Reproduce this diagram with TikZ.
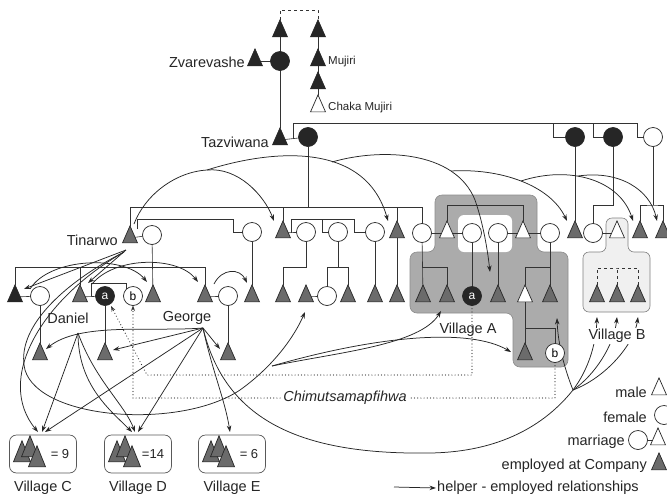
\documentclass[tikz,border=0pt]{standalone}
\usepackage{fontspec}
\setmainfont{Liberation Sans}
\usetikzlibrary{shapes.geometric,arrows.meta,calc}
\pgfdeclarelayer{bg}
\pgfsetlayers{bg,main}
\begin{document}
\begin{tikzpicture}[x=1pt,y=-1pt,
  sym/.style={draw=black!85, line width=0.7pt, inner sep=0pt, outer sep=0pt},
  tri/.style={sym, isosceles triangle, isosceles triangle stretches, shape border rotate=90, minimum width=15pt, minimum height=17pt},
  hat/.style={tri, fill=black!58},
  sol/.style={tri, fill=black!85},
  otri/.style={tri, fill=white},
  fem/.style={sym, circle, minimum size=19pt, fill=white, font=\fontsize{12}{12}\selectfont},
  sfem/.style={fem, fill=black!85, text=white},
  ln/.style={draw=black!80, line width=0.6pt},
  hl/.style={draw=black!85, line width=0.75pt, -{Stealth[length=6.5pt,width=4.5pt]}},
  dt/.style={draw=black!80, line width=1.2pt, line cap=round, dash pattern=on 0pt off 3.2pt, -{Stealth[length=5.5pt,width=4pt]}},
  lab/.style={font=\fontsize{14.5}{16}\selectfont, text=black!85, inner sep=1pt},
  sm/.style={font=\fontsize{11.5}{13}\selectfont, text=black!85, inner sep=1pt},
  vbox/.style={draw=black!65, line width=0.7pt, rounded corners=7pt, minimum width=67pt, minimum height=38pt, fill=white},
  big/.style={hat, minimum width=17pt, minimum height=21pt},
]
\useasboundingbox (0,0) rectangle (667,496);

% ---------- top generations
\node[sol] (zt1) at (280,32) {};
\node[sol] (zt2) at (318,32) {};
\node[sol] (zv) at (255,61) {};
\node[sfem] (zc) at (280,61) {};
\node[sol] (mj) at (318,61) {};
\node[sol] (mj2) at (318,84) {};
\node[otri] (cm) at (318,107) {};
\node[sol] (tz) at (280,140) {};
\node[sfem] (tc) at (308,137) {};
\node[sfem] (r1) at (575,137) {};
\node[sfem] (r2) at (613,137) {};
\node[fem] (r3) at (653,137) {};
\node[lab, anchor=east] (lzv) at (246,62) {Zvarevashe};
\node[sm, anchor=west] (lmj) at (327,62) {Mujiri};
\node[sm, anchor=west] (lcm) at (327,108) {Chaka Mujiri};
\node[lab, anchor=east] (ltz) at (270,142) {Tazviwana};

% ---------- row 2
\node[hat] (tn) at (130,238) {};
\node[fem] (c1) at (152,235) {};
\node[fem] (c2) at (252,232) {};
\node[hat] (t2) at (283,233) {};
\node[fem] (c3) at (306,232) {};
\node[fem] (c4) at (338,232) {};
\node[fem] (c5) at (375,232) {};
\node[hat] (t3) at (397,233) {};
\node[fem] (c6) at (422,233) {};
\node[otri] (a1) at (447,233) {};
\node[fem] (c7) at (472,233) {};
\node[fem] (c8) at (498,233) {};
\node[otri] (a2) at (523,233) {};
\node[fem] (c9) at (550,233) {};
\node[hat] (t4) at (575,233) {};
\node[fem] (c10) at (593,233) {};
\node[otri] (b0) at (617,233) {};
\node[hat] (t5) at (640,233) {};
\node[hat] (t6) at (663,233) {};
\node[lab, anchor=east] (ltn) at (119,240) {Tinarwo};

% ---------- row 3
\node[sol] (k1) at (15,297) {};
\node[fem] (k2) at (40,296) {};
\node[hat] (k3) at (80,297) {};
\node[sfem] (ka) at (105,296) {a};
\node[fem] (kb) at (133,296) {b};
\node[hat] (k4) at (153,297) {};
\node[hat] (k5) at (205,297) {};
\node[fem] (k6) at (228,296) {};
\node[hat] (k7) at (252,297) {};
\node[hat] (k8) at (283,297) {};
\node[hat] (k9) at (306,297) {};
\node[fem] (k10) at (327,296) {};
\node[hat] (k11) at (348,297) {};
\node[hat] (k12) at (375,297) {};
\node[hat] (k13) at (397,297) {};
\node[hat] (v1) at (423,297) {};
\node[hat] (v2) at (447,297) {};
\node[sfem] (va) at (472,296) {a};
\node[hat] (v4) at (498,297) {};
\node[otri] (v5) at (525,297) {};
\node[hat] (v6) at (550,297) {};
\node[hat] (vb1) at (597,297) {};
\node[hat] (vb2) at (617,297) {};
\node[hat] (vb3) at (638,297) {};
\node[lab] (ldan) at (68,318) {Daniel};
\node[lab] (lgeo) at (187,318) {George};

% ---------- row 4
\node[hat] (m1) at (40,355) {};
\node[hat] (m2) at (105,355) {};
\node[hat] (m3) at (228,355) {};
\node[hat] (w1) at (525,355) {};
\node[fem] (wb) at (555,353) {b};
\node[lab] (lva) at (468,330) {Village A};
\node[lab, fill=white] (lvb) at (617,336) {Village B};

% ---------- villages C D E
\node[vbox] (VC) at (43,454) {};
\node[big] (VC1) at ($(VC)+(-21,2)$) {};
\node[big] (VC2) at ($(VC)+(-13,-3)$) {};
\node[big] (VC3) at ($(VC)+(-6,7)$) {};
\node[lab, font=\fontsize{13}{13}\selectfont] (VCt) at ($(VC)+(17,0)$) {= 9};
\node[vbox] (VD) at (138,454) {};
\node[big] (VD1) at ($(VD)+(-21,2)$) {};
\node[big] (VD2) at ($(VD)+(-13,-3)$) {};
\node[big] (VD3) at ($(VD)+(-6,7)$) {};
\node[lab, font=\fontsize{13}{13}\selectfont] (VDt) at ($(VD)+(15,0)$) {=14};
\node[vbox] (VE) at (232,454) {};
\node[big] (VE1) at ($(VE)+(-21,2)$) {};
\node[big] (VE2) at ($(VE)+(-13,-3)$) {};
\node[big] (VE3) at ($(VE)+(-6,7)$) {};
\node[lab, font=\fontsize{13}{13}\selectfont] (VEt) at ($(VE)+(17,0)$) {= 6};
\node[lab] (lvc) at (43,488) {Village C};
\node[lab] (lvd) at (138,488) {Village D};
\node[lab] (lve) at (232,488) {Village E};

% ---------- legend
\node[lab, anchor=east] (lgm) at (648,392) {male};
\node[otri] (sgm) at (659,390) {};
\node[lab, anchor=east] (lgf) at (648,417) {female};
\node[fem] (sgf) at (664,415) {};
\node[lab, anchor=east] (lgr) at (626,442) {marriage};
\node[fem] (sgr1) at (638,440) {};
\node[otri] (sgr2) at (658,440) {};
\node[lab, anchor=east] (lge) at (648,466) {employed at Company};
\node[hat] (sge) at (659,465) {};
\node[lab, anchor=west] (lgh) at (436,488) {helper - employed relationships};
\coordinate (lga) at (394,487);

\node[lab, font=\fontsize{14.5}{16}\selectfont\itshape, fill=white, inner sep=2pt] (lch) at (345,398) {Chimutsamapfihwa};

\begin{pgfonlayer}{bg}
\fill[white] (0,0) rectangle (667,496);
% Village A and B areas
\filldraw[fill=black!33, draw=black!45, line width=0.6pt, rounded corners=7pt]
  (410,252) -- (435,252) -- (435,195) -- (537,195) -- (537,252) -- (568,252)
  -- (568,367) -- (513,367) -- (513,313) -- (410,313) -- cycle;
\fill[white, rounded corners=6pt] (458,215) rectangle (512,252);
\filldraw[fill=black!6, draw=black!50, line width=0.6pt, rounded corners=6pt]
  (583,252) -- (606,252) -- (606,218) -- (628,218) -- (628,252) -- (650,252)
  -- (650,312) -- (583,312) -- cycle;

% kinship lines top
\draw[ln, dashed] (zt1.apex) -- ++(0,-10) -| (zt2.apex);
\draw[ln] (zt1) -- (tz);
\draw[ln] (zv) -- (zc);
\draw[ln] (zt2) -- (cm);
\draw[ln] (tz) -- (tc);
\draw[ln] (293,139) -- (293,123) -- (637,123) |- (r3);
\draw[ln] (553,123) |- (r1);
\draw[ln] (593,123) |- (r2);
\draw[ln] (tc) -- (tc |- 0,207);
\draw[ln] (tn) -- (tn |- 0,207) -- (c6 |- 0,207) -- (c6);
\draw[ln] (t2) -- (t2 |- 0,207);
\draw[ln] (t3) -- (t3 |- 0,207);
% row 2 marriages
\draw[ln] (tn) -- (c1);
\draw[ln] (137,229) -- (137,219) -- (233,219) |- (c2);
\draw[ln] (t2) -- (c3);
\draw[ln] (291,233) -- (291,219) -- (354,219) |- (c5);
\draw[ln] (322,219) |- (c4);
\draw[ln] (c6) -- (c7);
\draw[ln] (c8) -- (c9);
\draw[ln] (c10) -- (b0);
\draw[ln] (a1) -- (a1 |- 0,205) -| (a2);
\draw[ln] (r1) -- (t4);
\draw[ln] (r2) -- (r2 |- 0,205) -| (c10);
\draw[ln] (r3) -- (r3 |- 0,205);
\draw[ln] (t5) |- (r3 |- 0,205) -| (t6);
% row 2 descents
\draw[ln] (c1) -- (k4);
\draw[ln] (k1) |- (k5 |- 0,267) -- (k5);
\draw[ln] (k3) -- (k3 |- 0,267);
\draw[ln] (c2) -- (k7);
\draw[ln] (c3) -- (c3 |- 0,267) -| (k8);
\draw[ln] (c4) -- (c4 |- 0,267);
\draw[ln] (k10) |- (k11 |- 0,267) -- (k11);
\draw[ln] (c5) -- (k12);
\draw[ln] (t3) -- (k13);
\draw[ln] (c6) -- (v1);
\draw[ln] (c6 |- 0,267) -| (v2);
\draw[ln] (c7) -- (va);
\draw[ln] (c8) -- (v4);
\draw[ln] (c9) -- (v6);
\draw[ln] (c9 |- 0,267) -| (v5);
\draw[ln] (v5) -- (w1);
\draw[ln] (v5 |- 0,328) -| (wb);
\draw[ln, dashed] (vb1) |- (vb2 |- 0,268) -| (vb3);
\draw[ln, dashed] (vb2) -- (vb2 |- 0,268);
% row 3 marriages and descents
\draw[ln] (k1) -- (k2);
\draw[ln] (k3) -- (ka);
\draw[ln] (91,296) -- (91,283) -| (kb.north west);
\draw[ln] (k5) -- (k6);
\draw[ln] (k9) -- (k10);
\draw[ln] (k2) -- (m1);
\draw[ln] (ka) -- (m2);
\draw[ln] (k6) -- (m3);

% helper arrows from Tinarwo (upper)
\draw[hl] (134,224) .. controls (145,195) and (175,172) .. (207,170) .. controls (238,167) and (264,195) .. (274,221);
\draw[hl] (207,170) .. controls (270,150) and (365,140) .. (388,221);
\draw[hl] (332,162) .. controls (380,148) and (455,150) .. (475,200) .. controls (482,220) and (487,245) .. (490,272);
\draw[hl] (451,171) .. controls (500,168) and (550,185) .. (567,221);
\draw[hl] (521,181) .. controls (570,165) and (620,180) .. (633,221);
\draw[hl] (578,176) .. controls (620,170) and (650,190) .. (657,221);
% Tinarwo lower
\draw[hl] (126,250) -- (24,289);
\draw[hl] (126,250) -- (88,283);
\draw[hl] (124,252) .. controls (60,285) and (15,330) .. (25,370) .. controls (40,420) and (180,430) .. (240,390) .. controls (275,365) and (295,335) .. (305,312);
\draw[hl] (124,252) .. controls (40,300) and (-5,380) .. (38,432);
\draw[hl] (272,366) .. controls (340,352) and (420,345) .. (441,311);
\draw[hl] (272,366) .. controls (380,335) and (470,328) .. (511,352);
% small arcs
\draw[hl] (30,289) .. controls (50,257) and (125,255) .. (147,282);
\draw[hl] (92,284) .. controls (115,256) and (178,256) .. (198,282);
\draw[hl] (214,284) .. controls (222,268) and (240,268) .. (247,283);
% Daniel
\coordinate (D0) at (78,333);
\draw[hl] (D0) -- (42,432);
\draw[hl] (D0) .. controls (78,385) and (110,410) .. (132,432);
\draw[hl] (D0) .. controls (95,380) and (125,405) .. (135,432);
% George
\coordinate (G0) at (203,328);
\coordinate (J) at (573,390);
\draw[hl] (G0) .. controls (150,332) and (80,322) .. (46,349);
\draw[hl] (G0) -- (113,350);
\draw[hl] (G0) -- (45,432);
\draw[hl] (G0) -- (138,432);
\draw[hl] (G0) .. controls (212,370) and (225,400) .. (230,432);
\draw[hl] (G0) -- (220,349);
\draw[line width=0.75pt, black!85] (G0) .. controls (225,420) and (300,455) .. (430,453) .. controls (500,452) and (545,425) .. (J);
\draw[hl] (J) .. controls (565,370) and (558,345) .. (557,318);
\draw[hl] (J) .. controls (588,370) and (596,345) .. (597,317);
\draw[hl] (J) .. controls (595,375) and (614,345) .. (617,317);
\draw[hl] (J) .. controls (605,378) and (634,345) .. (638,317);
% Chimutsamapfihwa
\draw[dt] (va.south) -- (va.south |- 0,375) -- (147,375) -- (111,306);
\draw[dt] (wb.south) -- (wb.south |- 0,398) -- (133,398) -- (kb.south);
% legend
\draw[ln] (sgr1) -- (sgr2);
\draw[hl] (lga) -- (lgh.west);
\end{pgfonlayer}
\end{tikzpicture}
\end{document}
